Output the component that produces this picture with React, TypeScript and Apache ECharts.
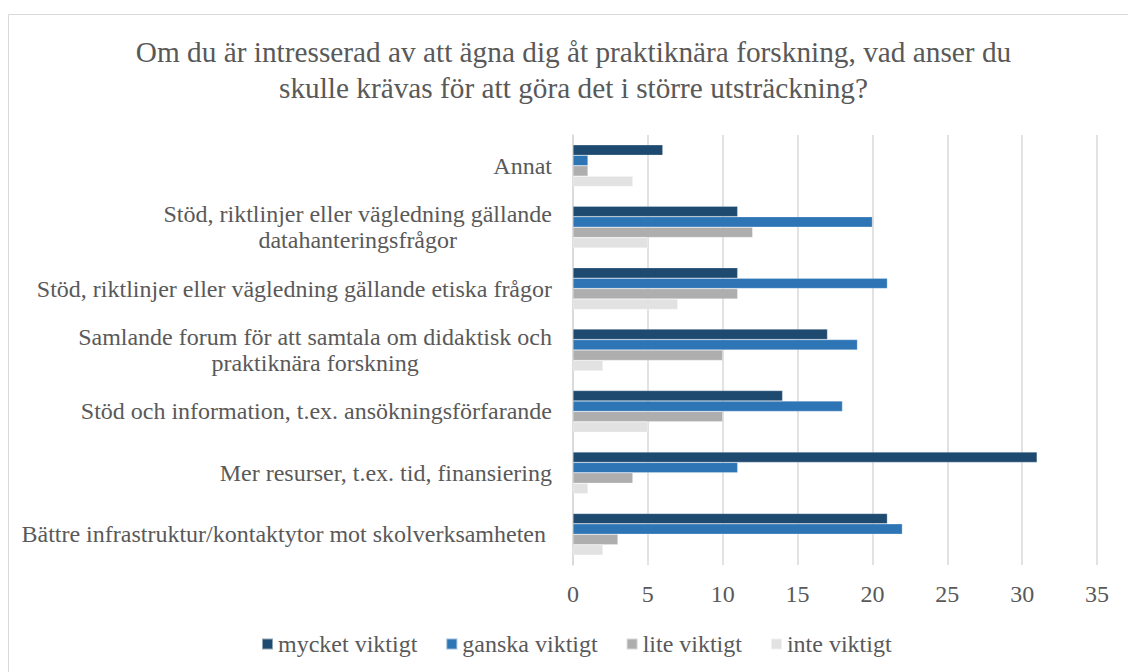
import React, { useEffect, useRef } from "react";
import * as echarts from "echarts";

const titleText =
  "Om du är intresserad av att ägna dig åt praktiknära forskning, vad anser du\nskulle krävas för att göra det i större utsträckning?";

// categories listed top to bottom as in the picture
const categories = [
  "Annat",
  "Stöd, riktlinjer eller vägledning gällande\ndatahanteringsfrågor",
  "Stöd, riktlinjer eller vägledning gällande etiska frågor",
  "Samlande forum för att samtala om didaktisk och\npraktiknära forskning",
  "Stöd och information, t.ex. ansökningsförfarande",
  "Mer resurser, t.ex. tid, finansiering",
  "Bättre infrastruktur/kontaktytor mot skolverksamheten ",
];

const seriesNames = ["mycket viktigt", "ganska viktigt", "lite viktigt", "inte viktigt"];
const mycketViktigt = [6, 11, 11, 17, 14, 31, 21];
const ganskaViktigt = [1, 20, 21, 19, 18, 11, 22];
const liteViktigt = [1, 12, 11, 10, 10, 4, 3];
const inteViktigt = [4, 5, 7, 2, 5, 1, 2];
const colors = ["#1F4A6F", "#2E75B6", "#AFAEAE", "#E2E2E2"];

const xTicks = { min: 0, max: 35, interval: 5 };

const FONT = "Liberation Serif";
const TEXT = "#595959";

export default function App() {
  const ref = useRef<HTMLDivElement>(null);
  useEffect(() => {
    if (!ref.current) return;
    const chart = echarts.init(ref.current, undefined, { renderer: "svg" });
    const values = [mycketViktigt, ganskaViktigt, liteViktigt, inteViktigt];
    chart.setOption({
      animation: false,
      backgroundColor: "#ffffff",
      textStyle: { fontFamily: FONT },
      title: {
        text: titleText,
        left: 573.5,
        top: 34,
        padding: 0,
        textAlign: "center",
        textStyle: {
          fontFamily: FONT,
          fontSize: 29.3,
          fontWeight: "normal",
          color: TEXT,
          lineHeight: 36,
        },
      },
      graphic: [
        {
          type: "rect",
          shape: { x: 8.5, y: 14.5, width: 1200, height: 700 },
          style: { fill: "none", stroke: "#D9D9D9", lineWidth: 1 },
          silent: true,
        },
      ],
      legend: {
        data: seriesNames,
        left: 261,
        top: 632,
        padding: 0,
        itemWidth: 11,
        itemHeight: 11,
        itemGap: 28,
        icon: "rect",
        textStyle: { fontFamily: FONT, fontSize: 24, color: TEXT },
      },
      grid: { left: 573, right: 31, top: 135, bottom: 107, containLabel: false },
      xAxis: {
        type: "value",
        min: xTicks.min,
        max: xTicks.max,
        interval: xTicks.interval,
        axisLine: { show: false },
        axisTick: { show: false },
        axisLabel: { fontFamily: FONT, fontSize: 24, color: TEXT, margin: 17 },
        splitLine: { lineStyle: { color: "#D9D9D9", width: 1.5 } },
      },
      yAxis: {
        type: "category",
        inverse: true,
        data: categories,
        axisLine: { show: true, lineStyle: { color: "#D9D9D9", width: 1.5 } },
        axisTick: { show: false },
        axisLabel: {
          margin: 21,
          fontFamily: FONT,
          formatter: (v: string) =>
            v
              .split("\n")
              .map((l) => "{c|" + l + "}")
              .join("\n"),
          rich: {
            c: {
              fontFamily: FONT,
              fontSize: 24,
              color: TEXT,
              align: "center",
              lineHeight: 26.5,
            },
          },
        },
      },
      series: seriesNames.map((name, i) => ({
        name,
        type: "bar",
        data: values[i],
        barGap: "0%",
        barCategoryGap: "32%",
        itemStyle: { color: colors[i], borderColor: "rgba(255,255,255,0.5)", borderWidth: 0.5 },
      })),
    });
    return () => chart.dispose();
  }, []);
  return (
    <div
      ref={ref}
      style={{ position: "fixed", left: 0, top: 0, width: 1128, height: 672 }}
    />
  );
}
